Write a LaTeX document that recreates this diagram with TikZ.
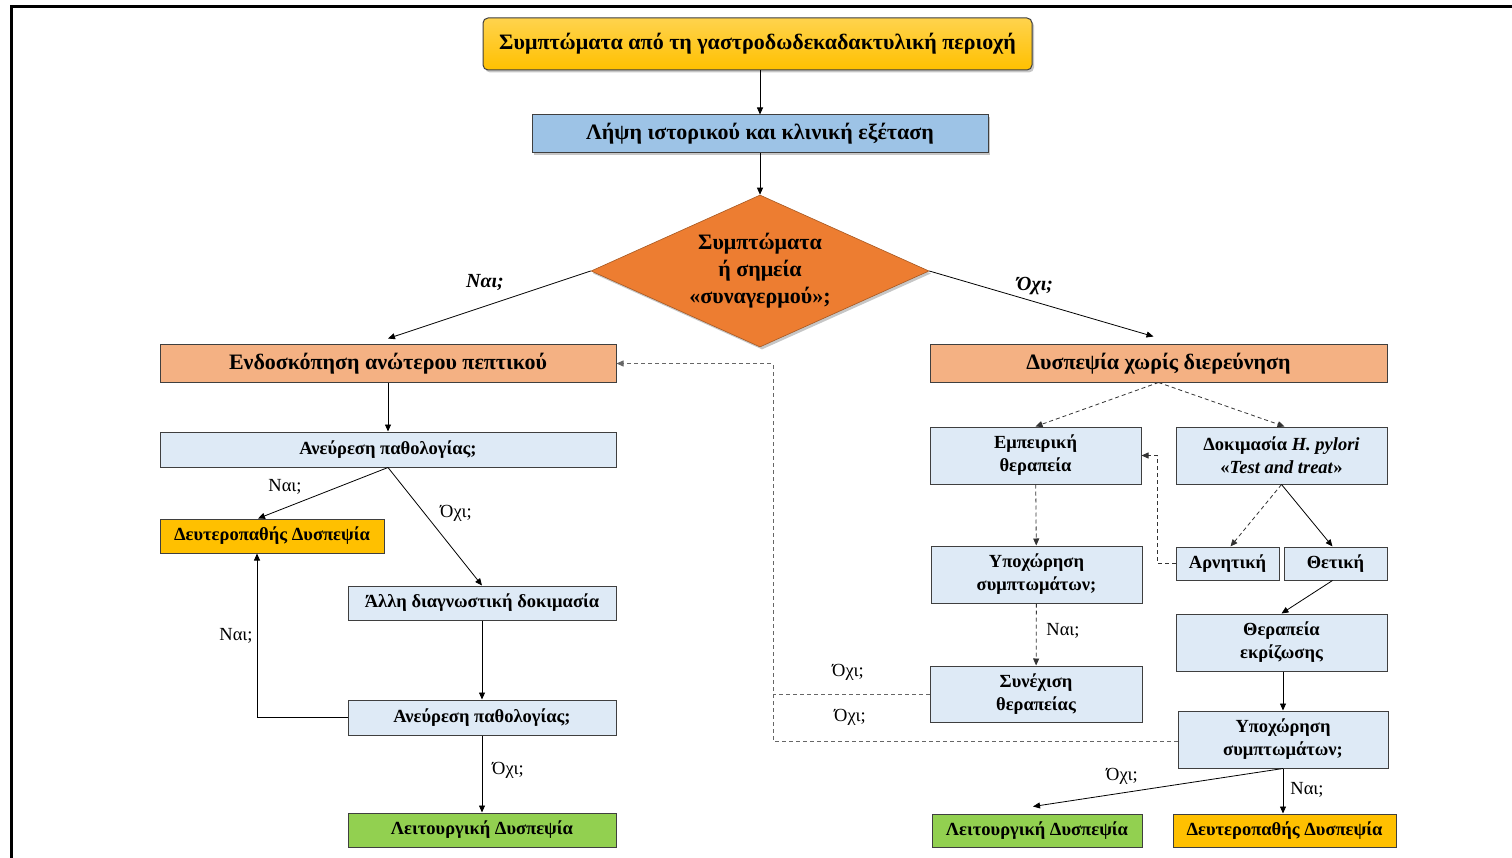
\documentclass[tikz,border=0pt]{standalone}
\usepackage{fontspec}
\setmainfont{Liberation Serif}
\usepackage{tikz}
\usetikzlibrary{shapes.geometric,arrows.meta,shadows}
\usepackage{xcolor}
\definecolor{goldbox}{HTML}{FFC000}
\definecolor{goldtop}{HTML}{FFD34D}
\definecolor{midblue}{HTML}{9DC3E6}
\definecolor{paleblue}{HTML}{DEEAF6}
\definecolor{salmon}{HTML}{F4B183}
\definecolor{orangedia}{HTML}{ED7D31}
\definecolor{greenbox}{HTML}{92D050}
\definecolor{rimgray}{HTML}{3F3F3F}

\begin{document}
\begin{tikzpicture}[x=1pt,y=-1pt]
  \tikzset{flowbox/.style={rectangle,draw=rimgray,line width=1pt,align=center,inner sep=2pt,font=\fontsize{18.5}{23}\selectfont\bfseries}}
  \tikzset{bigbox/.style={flowbox,font=\fontsize{22}{24}\selectfont\bfseries}}
  \tikzset{softshadow/.style={drop shadow={shadow xshift=2pt,shadow yshift=-2.5pt,opacity=.45}}}
  \tikzset{flowarrow/.style={draw=black,line width=0.8pt,-{Triangle[length=7pt,width=6pt]}}}
  \tikzset{dasharrow/.style={flowarrow,dash pattern=on 4pt off 3pt,draw=black!80}}
  \tikzset{dashline/.style={draw=black!60,line width=0.8pt,dash pattern=on 4pt off 3pt}}
  \tikzset{answer/.style={font=\fontsize{18.5}{20}\selectfont,inner sep=1pt}}
  \tikzset{biganswer/.style={answer,font=\fontsize{20}{22}\selectfont\bfseries\itshape}}
  \useasboundingbox (0,0) rectangle (1512,858);
  % frame (cut at right and bottom)
  \draw[line width=3pt] (11,858) -- (11,7) -- (1512,7);
  % top of the chart
  \node[bigbox,rounded corners=5pt,top color=goldtop,bottom color=goldbox,softshadow,minimum width=549,minimum height=52] (b0) at (757.5,44) {Συμπτώματα από τη γαστροδωδεκαδακτυλική περιοχή};
  \node[bigbox,fill=midblue,softshadow,minimum width=456,minimum height=38] (b1) at (760,134) {Λήψη ιστορικού και κλινική εξέταση};
  \node[diamond,aspect=2.22,draw=orangedia!70!black,line width=0.6pt,fill=orangedia,softshadow,minimum width=338,minimum height=152,align=center,inner sep=0pt,font=\fontsize{22}{27}\selectfont\bfseries] (d0) at (760,271) {Συμπτώματα\\ή σημεία\\«συναγερμού»;};
  \draw[flowarrow] (b0.south -| b1) -- (b1);
  \draw[flowarrow] (b1) -- (d0);
  % left column
  \node[bigbox,fill=salmon,minimum width=456,minimum height=37] (b3) at (388,363.5) {Ενδοσκόπηση ανώτερου πεπτικού};
  \node[flowbox,fill=paleblue,minimum width=456,minimum height=35] (b5) at (388,449.5) {Ανεύρεση παθολογίας;};
  \node[flowbox,fill=goldbox,minimum width=224,minimum height=34] (b6) at (272,536) {Δευτεροπαθής Δυσπεψία};
  \node[flowbox,fill=paleblue,minimum width=268,minimum height=34] (b7) at (482,603) {Άλλη διαγνωστική δοκιμασία};
  \node[flowbox,fill=paleblue,minimum width=268,minimum height=35] (b8) at (482,717.5) {Ανεύρεση παθολογίας;};
  \node[flowbox,fill=greenbox,minimum width=268,minimum height=34] (b19) at (482,830) {Λειτουργική Δυσπεψία};
  % right column
  \node[bigbox,fill=salmon,minimum width=457,minimum height=37] (b4) at (1158.5,363.5) {Δυσπεψία χωρίς διερεύνηση};
  \node[flowbox,fill=paleblue,minimum width=211,minimum height=57] (b9) at (1035.5,455.5) {Εμπειρική\\θεραπεία};
  \node[flowbox,fill=paleblue,minimum width=211,minimum height=57] (b10) at (1281.5,455.5) {Δοκιμασία \textit{H. pylori}\\«\textit{Test and treat}»};
  \node[flowbox,fill=paleblue,minimum width=211,minimum height=57] (b11) at (1036.5,574.5) {Υποχώρηση\\συμπτωμάτων;};
  \node[flowbox,fill=paleblue,minimum width=212,minimum height=56] (b12) at (1036,694) {Συνέχιση\\θεραπείας};
  \node[flowbox,fill=paleblue,minimum width=103,minimum height=33] (b13) at (1227.5,563.5) {Αρνητική};
  \node[flowbox,fill=paleblue,minimum width=103,minimum height=33] (b14) at (1335.5,563.5) {Θετική};
  \node[flowbox,fill=paleblue,minimum width=211,minimum height=57] (b15) at (1281.5,642.5) {Θεραπεία\\εκρίζωσης};
  \node[flowbox,fill=paleblue,minimum width=210,minimum height=57] (b16) at (1283,739.5) {Υποχώρηση\\συμπτωμάτων;};
  \node[flowbox,fill=greenbox,minimum width=210,minimum height=33] (b17) at (1037,830.5) {Λειτουργική Δυσπεψία};
  \node[flowbox,fill=goldbox,minimum width=223,minimum height=33] (b18) at (1284.5,830.5) {Δευτεροπαθής Δυσπεψία};
  % branches of the question
  \draw[flowarrow] (d0.west) -- ([yshift=6pt]b3.north);
  \node[biganswer] (l0) at (485,283) {Ναι;};
  \draw[flowarrow] (d0.east) -- ([xshift=-5pt,yshift=8pt]b4.north);
  \node[biganswer] (l1) at (1035,286) {Όχι;};
  % left column connectors
  \draw[flowarrow] (b3) -- (b5);
  \draw[flowarrow] (b5.south) -- ([xshift=-14pt]b6.north);
  \node[answer] (l2) at (285,487) {Ναι;};
  \draw[flowarrow] (b5.south) -- (b7.north);
  \node[answer] (l3) at (456,513) {Όχι;};
  \draw[flowarrow] (b7) -- (b8);
  \draw[flowarrow] (b8.west) -| ([xshift=-15pt]b6.south);
  \node[answer] (l4) at (236,636) {Ναι;};
  \draw[flowarrow] (b8) -- (b19);
  \node[answer] (l5) at (508,770) {Όχι;};
  % right column connectors
  \draw[dasharrow] (b4.south) -- (b9.north);
  \draw[dasharrow] (b4.south) -- ([xshift=3pt]b10.north);
  \draw[dasharrow] (b9) -- (b11);
  \draw[dasharrow] (b11) -- (b12);
  \node[answer] (l6) at (1063,631) {Ναι;};
  \draw[dasharrow] (b10.south) -- ([xshift=3pt]b13.north);
  \draw[flowarrow] (b10.south) -- ([xshift=-3pt]b14.north);
  \draw[dasharrow] (b13.west) -- ++(-18,0) |- (b9.east);
  \draw[flowarrow] ([xshift=-3pt]b14.south) -- (b15.north);
  \draw[flowarrow] (b15.south -| b16) -- (b16);
  \draw[flowarrow] (b16.south) -- ([xshift=-4pt,yshift=7pt]b17.north);
  \node[answer] (l7) at (1122,776) {Όχι;};
  \draw[flowarrow] (b16.south) -- (b18.north -| b16.south);
  \node[answer] (l8) at (1307,790) {Ναι;};
  % way back to the endoscopy
  \coordinate (k1) at (773,741);
  \coordinate (k2) at (773,363.5);
  \draw[dashline] (b12.west) -- (b12.west -| k1);
  \draw[dasharrow,draw=black!60] (b16.west |- k1) -- (k1) -- (k2) -- (b3.east);
  \node[answer] (l9) at (848,672) {Όχι;};
  \node[answer] (l10) at (850,717) {Όχι;};
\end{tikzpicture}
\end{document}
